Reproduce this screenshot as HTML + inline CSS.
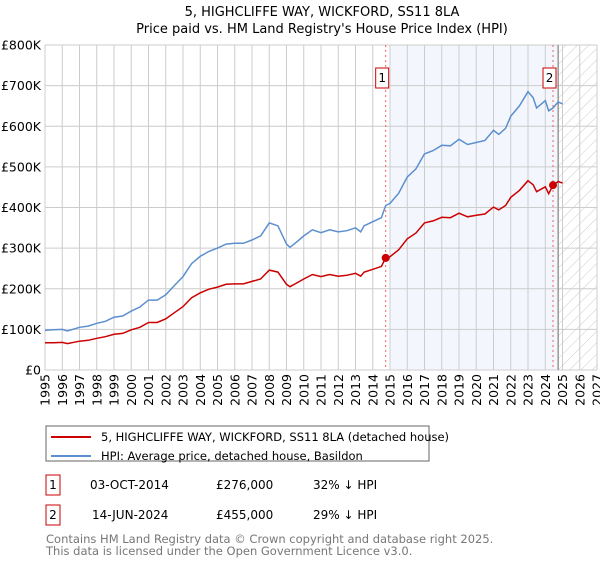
<!DOCTYPE html>
<html><head><meta charset="utf-8"><style>
body{margin:0;background:#fff;font-family:"Liberation Sans","DejaVu Sans",sans-serif;}
svg text{font-family:"DejaVu Sans","Liberation Sans",sans-serif;}
</style></head><body>
<svg id="c" width="600" height="560" xmlns="http://www.w3.org/2000/svg">
<defs><pattern id="hatch" patternUnits="userSpaceOnUse" width="8" height="8" patternTransform="rotate(45)"><line x1="0" y1="0" x2="0" y2="8" stroke="#ccc" stroke-width="1"/></pattern></defs>
<text x="322" y="16" text-anchor="middle" font-size="13">5, HIGHCLIFFE WAY, WICKFORD, SS11 8LA</text>
<text x="322" y="33" text-anchor="middle" font-size="13">Price paid vs. HM Land Registry's House Price Index (HPI)</text>
<g id="plot"></g>
<rect x="46" y="426" width="383" height="35" fill="none" stroke="#666"/>
<line x1="51" y1="437" x2="91" y2="437" stroke="#cc0000" stroke-width="2"/>
<text x="101" y="441" font-size="11.5">5, HIGHCLIFFE WAY, WICKFORD, SS11 8LA (detached house)</text>
<line x1="51" y1="456" x2="91" y2="456" stroke="#5b8fd0" stroke-width="2"/>
<text x="101" y="460" font-size="11.5">HPI: Average price, detached house, Basildon</text>
<g font-size="12">
<rect x="46" y="475" width="14" height="20" fill="none" stroke="#cc0000"/>
<text x="53" y="489" text-anchor="middle">1</text>
<text x="90" y="489">03-OCT-2014</text>
<text x="216" y="489">£276,000</text>
<text x="313" y="489">32% ↓ HPI</text>
<rect x="46" y="505" width="14" height="20" fill="none" stroke="#cc0000"/>
<text x="53" y="519" text-anchor="middle">2</text>
<text x="92" y="519">14-JUN-2024</text>
<text x="216" y="519">£455,000</text>
<text x="313" y="519">29% ↓ HPI</text>
</g>
<text x="46" y="543" font-size="11.5" fill="#777">Contains HM Land Registry data © Crown copyright and database right 2025.</text>
<text x="46" y="555" font-size="11.5" fill="#777">This data is licensed under the Open Government Licence v3.0.</text>
</svg>
<script>
const times=[1995,1995.5,1996,1996.3,1997,1997.5,1998,1998.5,1999,1999.5,2000,2000.5,2001,2001.5,2002,2002.5,2003,2003.5,2004,2004.5,2005,2005.5,2006,2006.5,2007,2007.5,2008,2008.5,2009,2009.2,2009.5,2010,2010.5,2011,2011.5,2012,2012.5,2013,2013.3,2013.5,2014,2014.5,2014.75,2015,2015.5,2016,2016.5,2017,2017.5,2018,2018.5,2019,2019.5,2020,2020.5,2021,2021.3,2021.7,2022,2022.5,2023,2023.3,2023.5,2024,2024.2,2024.45,2024.75,2025];
const hpiValues=[98,99,100,96,105,108,115,120,130,133,145,155,172,172,185,208,230,262,280,292,300,310,312,312,320,330,362,355,310,302,312,330,345,338,345,340,343,350,340,355,365,375,405,410,435,475,495,532,540,553,552,568,555,560,565,590,580,595,625,650,685,670,645,663,638,645,660,655];
const priceValues=[67,67,68,65,71,73,78,82,88,90,99,105,117,117,126,141,156,178,190,199,204,211,212,212,218,224,246,241,211,205,212,224,235,230,235,231,233,238,231,241,248,255,276,279,296,323,337,362,367,376,375,386,377,381,384,401,394,405,425,442,466,456,439,451,434,455,464,460];
const saleTimes=[2014.75,2024.45];
const saleValues=[276,455];
const saleLabels=["1","2"];
const yTicks=[0,100,200,300,400,500,600,700,800];
const yTickLabels=["£0","£100K","£200K","£300K","£400K","£500K","£600K","£700K","£800K"];
const xYears=[1995,1996,1997,1998,1999,2000,2001,2002,2003,2004,2005,2006,2007,2008,2009,2010,2011,2012,2013,2014,2015,2016,2017,2018,2019,2020,2021,2022,2023,2024,2025,2026,2027];
const X0=45,X1=597,Y0=370,Y1=45;
const xs=t=>X0+(t-1995)/(2027-1995)*(X1-X0);
const ys=v=>Y0-v/800*(Y0-Y1);
const NS="http://www.w3.org/2000/svg";
const g=document.getElementById('plot');
function mk(tag,attrs,parent){const e=document.createElementNS(NS,tag);for(const k in attrs)e.setAttribute(k,attrs[k]);(parent||g).appendChild(e);return e;}
// shade and hatch
let r=mk('rect',{x:xs(2015),y:Y1,width:xs(2024.75)-xs(2015),height:Y0-Y1,fill:'#eef3fc',opacity:0.7});


r=mk('rect',{x:xs(2024.75),y:Y1,width:X1-xs(2024.75),height:Y0-Y1,fill:'url(#hatch)'});


// grid
yTicks.forEach((v,i)=>{
 const l=mk('line',{x1:X0,x2:X1,y1:ys(v),y2:ys(v),stroke:'#ccc'});
 
 
 const t=mk('text',{x:X0-4,y:ys(v)+4.5,'text-anchor':'end','font-size':'12.5'});t.textContent=yTickLabels[i];
 
 
});
xYears.forEach(yr=>{
 const l=mk('line',{x1:xs(yr),x2:xs(yr),y1:Y1,y2:Y0,stroke:'#ccc'});
 
 
 const t=mk('text',{x:0,y:0,'text-anchor':'end','font-size':'12.5',transform:`translate(${xs(yr)+4.5},374) rotate(-90)`});t.textContent=yr;
 
 
});
let gl=mk('line',{x1:xs(2024.75),x2:xs(2024.75),y1:Y1,y2:Y0,stroke:'#999','stroke-width':1.5});


// sale vertical lines
saleTimes.forEach((t,i)=>{
 const l=mk('line',{x1:xs(t),x2:xs(t),y1:Y1,y2:Y0,stroke:'#f06060','stroke-dasharray':'2,3'});
 
 
 const b=mk('rect',{x:xs(t)-10,y:68,width:13,height:20,fill:'#fff',stroke:'#cc0000'});
 
 
 const tx=mk('text',{x:xs(t)-3.5,y:82,'text-anchor':'middle','font-size':'12'});tx.textContent=saleLabels[i];
 
 
});
function path(vals){return vals.map((v,i)=>(i?'L':'M')+xs(times[i]).toFixed(1)+','+ys(v).toFixed(1)).join('');}
let p=mk('path',{d:path(hpiValues),fill:'none',stroke:'#5b8fd0','stroke-width':1.5});


p=mk('path',{d:path(priceValues),fill:'none',stroke:'#cc0000','stroke-width':1.5});


saleTimes.forEach((t,i)=>{
 const c=mk('circle',{cx:xs(t),cy:ys(saleValues[i]),r:4,fill:'#cc0000'});
 
 
});
</script>
</body></html>
